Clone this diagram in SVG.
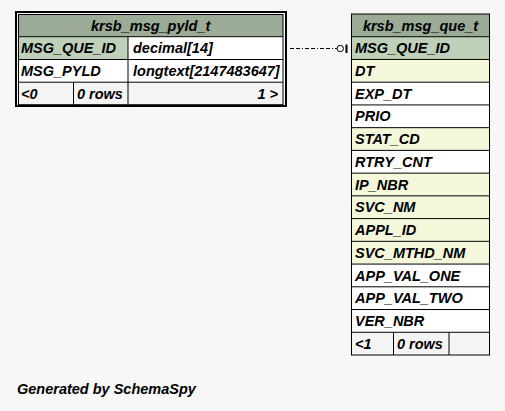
<svg xmlns="http://www.w3.org/2000/svg" width="505" height="411" viewBox="0 0 505 411">
<style>
text{font-family:"Liberation Sans",Arial,sans-serif;font-weight:bold;font-style:italic;font-size:14.5px;fill:#000}
.c{text-anchor:middle}
.r{text-anchor:end}
.g{stroke:#000;stroke-width:1;fill:none}
.hd{fill:#9bab96}
.pk{fill:#bed1b8}
.ix{fill:#f4f7da}
.wh{fill:#ffffff}
.ft{fill:#f4f4f4}
</style>
<rect x="0" y="0" width="505" height="411" fill="#f7f7f7"/>
<g id="connectors">
<line x1="290" y1="48.5" x2="337" y2="48.5" stroke="#000" stroke-width="1" stroke-dasharray="4,2,4,2,1,2"/>
<circle cx="340.3" cy="48.5" r="3.2" fill="none" stroke="#000" stroke-width="1"/>
<line x1="346.5" y1="44.5" x2="346.5" y2="53" stroke="#000" stroke-width="2"/>
</g>
<g id="krsb_msg_pyld_t">
<rect class="hd" x="18.5" y="14.5" width="264.5" height="22.2"/>
<rect class="pk" x="18.5" y="36.7" width="109.5" height="22.7"/>
<rect class="wh" x="128" y="36.7" width="155" height="22.7"/>
<rect class="wh" x="18.5" y="59.4" width="264.5" height="22.8"/>
<rect class="ft" x="18.5" y="82.2" width="264.5" height="22.5"/>
<rect x="16" y="12" width="270" height="94" fill="none" stroke="#000" stroke-width="2"/>
<rect class="g" x="18.5" y="14.5" width="264.5" height="90.2"/>
<line class="g" x1="18.5" y1="36.7" x2="283" y2="36.7"/>
<line class="g" x1="18.5" y1="59.5" x2="283" y2="59.5"/>
<line class="g" x1="18.5" y1="82.2" x2="283" y2="82.2"/>
<line class="g" x1="128" y1="36.7" x2="128" y2="104.7"/>
<line class="g" x1="73.5" y1="82.2" x2="73.5" y2="104.7"/>
<text class="c" x="150.7" y="30.8">krsb_msg_pyld_t</text>
<text x="21" y="53.3">MSG_QUE_ID</text>
<text x="133" y="53.3">decimal[14]</text>
<text x="21" y="76">MSG_PYLD</text>
<text x="133" y="76">longtext[2147483647]</text>
<text x="21" y="98.7">&lt;0</text>
<text x="77" y="98.7">0 rows</text>
<text class="r" x="278" y="98.7">1 &gt;</text>
</g>
<g id="krsb_msg_que_t">
<rect class="hd" x="351.5" y="14" width="138" height="22.73"/>
<rect class="pk" x="351.5" y="36.73" width="138" height="22.73"/>
<rect class="ix" x="351.5" y="59.47" width="138" height="22.73"/>
<rect class="wh" x="351.5" y="82.2" width="138" height="45.47"/>
<rect class="ix" x="351.5" y="127.67" width="138" height="22.73"/>
<rect class="wh" x="351.5" y="150.4" width="138" height="22.73"/>
<rect class="ix" x="351.5" y="173.13" width="138" height="90.93"/>
<rect class="wh" x="351.5" y="264.07" width="138" height="68.2"/>
<rect class="ft" x="351.5" y="332.27" width="138" height="22.73"/>
<rect class="g" x="351.5" y="14" width="138" height="341"/>
<line class="g" x1="351.5" y1="36.73" x2="489.5" y2="36.73"/>
<line class="g" x1="351.5" y1="59.47" x2="489.5" y2="59.47"/>
<line class="g" x1="351.5" y1="82.2" x2="489.5" y2="82.2"/>
<line class="g" x1="351.5" y1="104.93" x2="489.5" y2="104.93"/>
<line class="g" x1="351.5" y1="127.67" x2="489.5" y2="127.67"/>
<line class="g" x1="351.5" y1="150.4" x2="489.5" y2="150.4"/>
<line class="g" x1="351.5" y1="173.13" x2="489.5" y2="173.13"/>
<line class="g" x1="351.5" y1="195.87" x2="489.5" y2="195.87"/>
<line class="g" x1="351.5" y1="218.6" x2="489.5" y2="218.6"/>
<line class="g" x1="351.5" y1="241.33" x2="489.5" y2="241.33"/>
<line class="g" x1="351.5" y1="264.07" x2="489.5" y2="264.07"/>
<line class="g" x1="351.5" y1="286.8" x2="489.5" y2="286.8"/>
<line class="g" x1="351.5" y1="309.53" x2="489.5" y2="309.53"/>
<line class="g" x1="351.5" y1="332.27" x2="489.5" y2="332.27"/>
<line class="g" x1="393.5" y1="332.27" x2="393.5" y2="355"/>
<line class="g" x1="449" y1="332.27" x2="449" y2="355"/>
<text class="c" x="420.5" y="30.5">krsb_msg_que_t</text>
<text x="355" y="53.2">MSG_QUE_ID</text>
<text x="355" y="76">DT</text>
<text x="355" y="98.7">EXP_DT</text>
<text x="355" y="121.4">PRIO</text>
<text x="355" y="144.1">STAT_CD</text>
<text x="355" y="166.9">RTRY_CNT</text>
<text x="355" y="189.6">IP_NBR</text>
<text x="355" y="212.3">SVC_NM</text>
<text x="355" y="235.1">APPL_ID</text>
<text x="355" y="257.8">SVC_MTHD_NM</text>
<text x="355" y="280.5">APP_VAL_ONE</text>
<text x="355" y="303.3">APP_VAL_TWO</text>
<text x="355" y="326">VER_NBR</text>
<text x="355" y="348.7">&lt;1</text>
<text x="397" y="348.7">0 rows</text>
</g>
<text x="17" y="394">Generated by SchemaSpy</text>
</svg>
